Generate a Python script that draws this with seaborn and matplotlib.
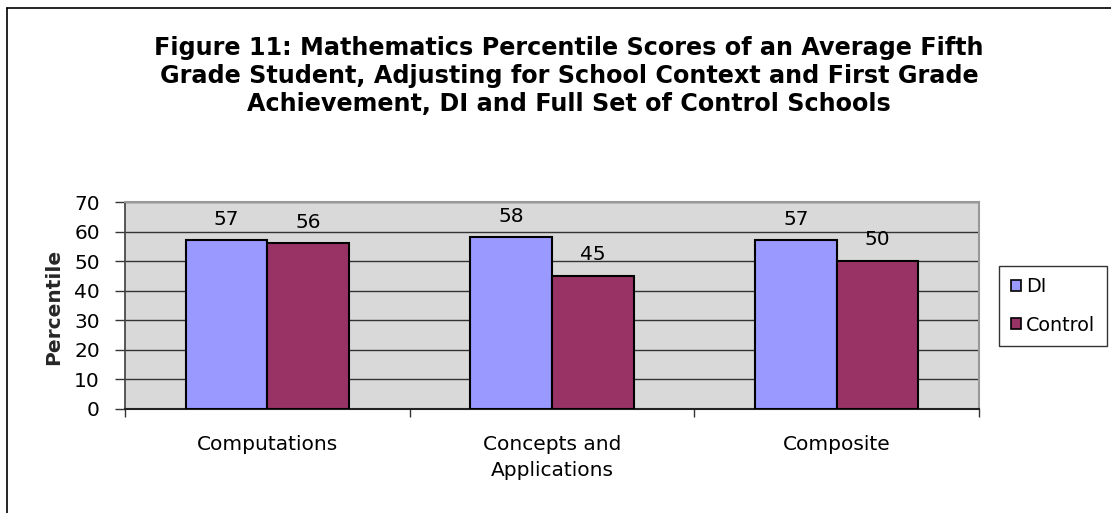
import matplotlib
matplotlib.use("Agg")
import matplotlib.pyplot as plt
import seaborn as sns
import pandas as pd
from matplotlib.lines import Line2D

categories = ["Computations", "Concepts and\nApplications", "Composite"]
series = ["DI", "Control"]
di_values = [57, 58, 57]
control_values = [56, 45, 50]
y_ticks = [0, 10, 20, 30, 40, 50, 60, 70]
title = ("Figure 11: Mathematics Percentile Scores of an Average Fifth\n"
         "Grade Student, Adjusting for School Context and First Grade\n"
         "Achievement, DI and Full Set of Control Schools")

df = pd.DataFrame({
    "category": categories * 2,
    "group": [series[0]] * 3 + [series[1]] * 3,
    "value": di_values + control_values,
})

sns.set_theme(style="white")
plt.rcParams["font.family"] = ["DejaVu Sans"]
plt.rcParams["text.color"] = "black"
plt.rcParams["xtick.color"] = "#333333"
plt.rcParams["ytick.color"] = "#333333"
plt.rcParams["xtick.labelcolor"] = "black"
plt.rcParams["ytick.labelcolor"] = "black"

fig = plt.figure(figsize=(11.11, 5.13), dpi=100)
ax = fig.add_axes([125 / 1111, 1 - 409 / 513, (979 - 125) / 1111, (409 - 202) / 513])
ax.set_facecolor("#D9D9D9")

sns.barplot(data=df, x="category", y="value", hue="group", order=categories,
            hue_order=series, palette=["#9999FF", "#993366"], width=0.574,
            edgecolor="black", linewidth=1.5, saturation=1, ax=ax, zorder=3,
            legend=True)

ax.set_ylim(0, 70)
ax.set_xlim(-0.5, 2.5)
ax.set_yticks(y_ticks)
ax.yaxis.grid(True, color="#333333", linewidth=1.0, zorder=0)
ax.set_axisbelow(True)
ax.set_xticks([0, 1, 2])
ax.set_xticklabels(categories, fontsize=14.5, linespacing=1.45, color="black")
ax.tick_params(axis="x", length=0, pad=19)
ax.set_xticks([-0.5, 0.5, 1.5, 2.5], minor=True)
ax.tick_params(axis="x", which="minor", length=6, width=1, color="#333333", direction="out", bottom=True)
ax.tick_params(axis="y", labelsize=14.5, length=7, width=1, color="#333333", direction="out", left=True, pad=11)
ax.set_xlabel("")
ax.set_ylabel("Percentile", fontsize=14.5, fontweight="bold")
ax.yaxis.set_label_coords(63 / 1111, 1 - 307 / 513, transform=fig.transFigure)

for side in ["top", "right"]:
    ax.spines[side].set_color("#999999")
    ax.spines[side].set_linewidth(1.5)
ax.spines["left"].set_color("#444444")
ax.spines["bottom"].set_color("#222222")
ax.spines["bottom"].set_linewidth(1.5)

for cont in ax.containers:
    ax.bar_label(cont, fmt="%d", padding=8.5, fontsize=14.5)

leg = ax.legend(loc="center left", bbox_to_anchor=(999 / 1111, 1 - 306 / 513),
                bbox_transform=fig.transFigure, frameon=True, fancybox=False,
                fontsize=13.8, handlelength=0.52, handleheight=0.52,
                handletextpad=0.26, labelspacing=1.0, borderpad=0.62,
                edgecolor="black", borderaxespad=0)
leg.get_frame().set_linewidth(1.0)
for h in leg.legend_handles:
    h.set_linewidth(1.2)
    h.set_edgecolor("black")

fig.text(569 / 1111, 1 - 76 / 513, title, ha="center", va="center",
         fontsize=17.2, fontweight="bold", linespacing=1.22)

fig.add_artist(Line2D([7 / 1111, 7 / 1111], [0, 1 - 8 / 513], color="black", linewidth=1.2, transform=fig.transFigure))
fig.add_artist(Line2D([7 / 1111, 1], [1 - 8 / 513, 1 - 8 / 513], color="black", linewidth=1.2, transform=fig.transFigure))

fig.savefig("out.png", dpi=100)
